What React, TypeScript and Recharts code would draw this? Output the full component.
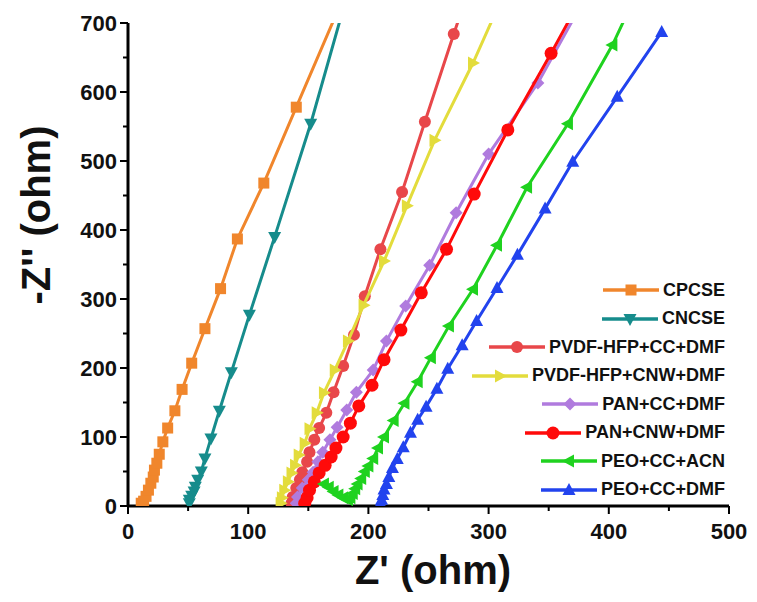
import { ScatterChart, Scatter, XAxis, YAxis } from "recharts";

type Pt = [number, number];

// Z' / -Z'' (ohm); last point of some runs leaves the top of the frame
const cpcse: Pt[] = [[11, 4], [13, 7], [15, 14], [17, 23], [19, 33], [21, 42], [22, 52], [24, 62], [26, 75], [29, 93], [33, 113], [39, 138], [45, 169], [53, 207], [64, 257], [77, 315], [91, 387], [113, 468], [140, 578], [175, 720]];
const cncse: Pt[] = [[51, 4], [51, 9], [53, 15], [55, 21], [56, 28], [58, 38], [61, 50], [64, 69], [69, 98], [76, 138], [86, 194], [101, 277], [122, 390], [152, 554], [179, 720]];
const pvdfCC: Pt[] = [[136, 4], [137, 13], [140, 26], [143, 38], [145, 49], [149, 64], [151, 78], [155, 96], [159, 113], [165, 135], [171, 165], [179, 203], [188, 248], [197, 304], [210, 372], [228, 455], [247, 557], [271, 684], [278, 720]];
const pvdfCNW: Pt[] = [[127, 4], [128, 12], [130, 23], [133, 35], [136, 48], [139, 59], [142, 74], [147, 91], [151, 112], [157, 135], [163, 164], [172, 197], [183, 239], [196, 291], [213, 355], [232, 435], [255, 530], [287, 642], [307, 720]];
const panCC: Pt[] = [[140, 4], [141, 13], [145, 26], [150, 38], [154, 49], [158, 64], [162, 78], [168, 96], [174, 114], [182, 139], [190, 165], [204, 197], [215, 239], [231, 290], [251, 349], [273, 425], [300, 510], [341, 613], [375, 720]];
const panCNW: Pt[] = [[147, 4], [149, 12], [151, 23], [155, 35], [159, 48], [164, 59], [169, 71], [173, 84], [179, 100], [185, 120], [192, 145], [203, 175], [213, 212], [227, 255], [244, 309], [265, 372], [288, 452], [316, 545], [352, 656], [372, 720]];
const peoACN: Pt[] = [[163, 32], [167, 27], [171, 21], [175, 16], [179, 12], [183, 9], [185, 12], [187, 18], [189, 25], [191, 32], [194, 40], [197, 50], [200, 58], [204, 69], [208, 84], [213, 100], [221, 124], [230, 149], [241, 180], [252, 215], [267, 261], [287, 314], [307, 378], [332, 462], [366, 554], [403, 668], [417, 720]];
const peoDMF: Pt[] = [[210, 4], [211, 9], [212, 16], [213, 24], [215, 32], [217, 42], [220, 55], [224, 68], [229, 85], [235, 106], [241, 125], [248, 144], [257, 170], [266, 199], [278, 233], [290, 268], [307, 316], [324, 364], [347, 431], [370, 499], [407, 593], [444, 687]];

const xTicks = [0, 50, 100, 150, 200, 250, 300, 350, 400, 450, 500];
const yTicks = [0, 50, 100, 150, 200, 250, 300, 350, 400, 450, 500, 550, 600, 650, 700];

const FONT = "'Liberation Sans', Arial, sans-serif";
const PL = 128; // plot left
const PB = 506; // plot bottom

const SERIES = [
  { name: "CPCSE", data: cpcse, color: "#F0862C", shape: "square" },
  { name: "CNCSE", data: cncse, color: "#168C8C", shape: "down" },
  { name: "PVDF-HFP+CC+DMF", data: pvdfCC, color: "#E8474A", shape: "circle" },
  { name: "PVDF-HFP+CNW+DMF", data: pvdfCNW, color: "#E3DC3C", shape: "right" },
  { name: "PAN+CC+DMF", data: panCC, color: "#B07BDE", shape: "diamond" },
  { name: "PAN+CNW+DMF", data: panCNW, color: "#FF0A0A", shape: "bigcircle" },
  { name: "PEO+CC+ACN", data: peoACN, color: "#1FD21F", shape: "left" },
  { name: "PEO+CC+DMF", data: peoDMF, color: "#2243EE", shape: "up" },
];

function Marker({ kind, cx, cy, color }: { kind: string; cx: number; cy: number; color: string }) {
  const s = 6.5;
  switch (kind) {
    case "square":
      return <rect x={cx - 5.5} y={cy - 5.5} width={11} height={11} fill={color} />;
    case "down":
      return <polygon points={`${cx - s},${cy - 5} ${cx + s},${cy - 5} ${cx},${cy + 7}`} fill={color} />;
    case "up":
      return <polygon points={`${cx - s},${cy + 5} ${cx + s},${cy + 5} ${cx},${cy - 7}`} fill={color} />;
    case "right":
      return <polygon points={`${cx - 5},${cy - s} ${cx - 5},${cy + s} ${cx + 7},${cy}`} fill={color} />;
    case "left":
      return <polygon points={`${cx + 5},${cy - s} ${cx + 5},${cy + s} ${cx - 7},${cy}`} fill={color} />;
    case "diamond":
      return <polygon points={`${cx},${cy - 6.5} ${cx + 6.5},${cy} ${cx},${cy + 6.5} ${cx - 6.5},${cy}`} fill={color} />;
    case "bigcircle":
      return <circle cx={cx} cy={cy} r={6.5} fill={color} />;
    default:
      return <circle cx={cx} cy={cy} r={6} fill={color} />;
  }
}

const YTick = (props: any) => {
  const { y, payload } = props;
  const v = payload.value;
  const major = v % 100 === 0;
  return (
    <g>
      <line x1={PL - (major ? 8 : 5)} x2={PL} y1={y} y2={y} stroke="#000" strokeWidth={2} />
      {major && (
        <text x={PL - 11} y={y} dy="0.36em" textAnchor="end" fontFamily={FONT} fontWeight="bold" fontSize={22} fill="#111">
          {v}
        </text>
      )}
    </g>
  );
};

const XTick = (props: any) => {
  const { x, payload } = props;
  const v = payload.value;
  const major = v % 100 === 0;
  return (
    <g>
      <line x1={x} x2={x} y1={PB} y2={PB + (major ? 8 : 5)} stroke="#000" strokeWidth={2} />
      {major && (
        <text x={x} y={PB + 17} dy="0.72em" textAnchor="middle" fontFamily={FONT} fontWeight="bold" fontSize={22} fill="#111">
          {v}
        </text>
      )}
    </g>
  );
};

function LegendBox() {
  return (
    <div style={{ position: "absolute", right: 32, top: 276, fontFamily: FONT, fontWeight: "bold", fontSize: 18, color: "#111" }}>
      {SERIES.map(s => (
        <div key={s.name} style={{ display: "flex", justifyContent: "flex-end", alignItems: "center", height: 28.5 }}>
          <svg width={56} height={20} style={{ marginRight: 4 }}>
            <line x1={0} x2={56} y1={10} y2={10} stroke={s.color} strokeWidth={3.5} />
            <Marker kind={s.shape} cx={28} cy={10} color={s.color} />
          </svg>
          <span style={{ whiteSpace: "nowrap" }}>{s.name}</span>
        </div>
      ))}
    </div>
  );
}

export default function App() {
  return (
    <div style={{ position: "absolute", left: 0, top: 0, width: 757, height: 602, background: "#fff" }}>
      <ScatterChart width={757} height={602} margin={{ top: 23, right: 28, bottom: 0, left: 0 }}>
        <XAxis
          dataKey="x"
          type="number"
          domain={[0, 500]}
          ticks={xTicks}
          interval={0}
          tick={<XTick />}
          tickLine={false}
          axisLine={{ stroke: "#000", strokeWidth: 3 }}
          height={96}
          label={{
            content: () => (
              <text x={433} y={570} textAnchor="middle" dy="0.35em" fontFamily={FONT} fontWeight="bold" fontSize={40} fill="#111">
                Z' (ohm)
              </text>
            ),
          }}
        />
        <XAxis xAxisId="top" orientation="top" type="number" domain={[0, 500]} height={0} tick={false} tickLine={false} axisLine={{ stroke: "#000", strokeWidth: 3 }} />
        <YAxis
          dataKey="y"
          type="number"
          domain={[0, 700]}
          allowDataOverflow
          ticks={yTicks}
          interval={0}
          tick={<YTick />}
          tickLine={false}
          axisLine={{ stroke: "#000", strokeWidth: 3 }}
          width={128}
          label={{
            content: () => (
              <text x={36} y={215} textAnchor="middle" dy="0.35em" transform="rotate(-90 36 215)" fontFamily={FONT} fontWeight="bold" fontSize={40} fill="#111">
                -Z'' (ohm)
              </text>
            ),
          }}
        />
        <YAxis yAxisId="right" orientation="right" type="number" domain={[0, 700]} width={0} tick={false} tickLine={false} axisLine={{ stroke: "#000", strokeWidth: 3 }} />
        {SERIES.map(s => (
          <Scatter
            key={s.name}
            name={s.name}
            data={s.data.map(([x, y]) => ({ x, y }))}
            fill={s.color}
            line={{ stroke: s.color, strokeWidth: 3 }}
            lineType="joint"
            shape={(p: any) => <Marker kind={s.shape} cx={p.cx} cy={p.cy} color={s.color} />}
            isAnimationActive={false}
          />
        ))}
      </ScatterChart>
      <LegendBox />
    </div>
  );
}
